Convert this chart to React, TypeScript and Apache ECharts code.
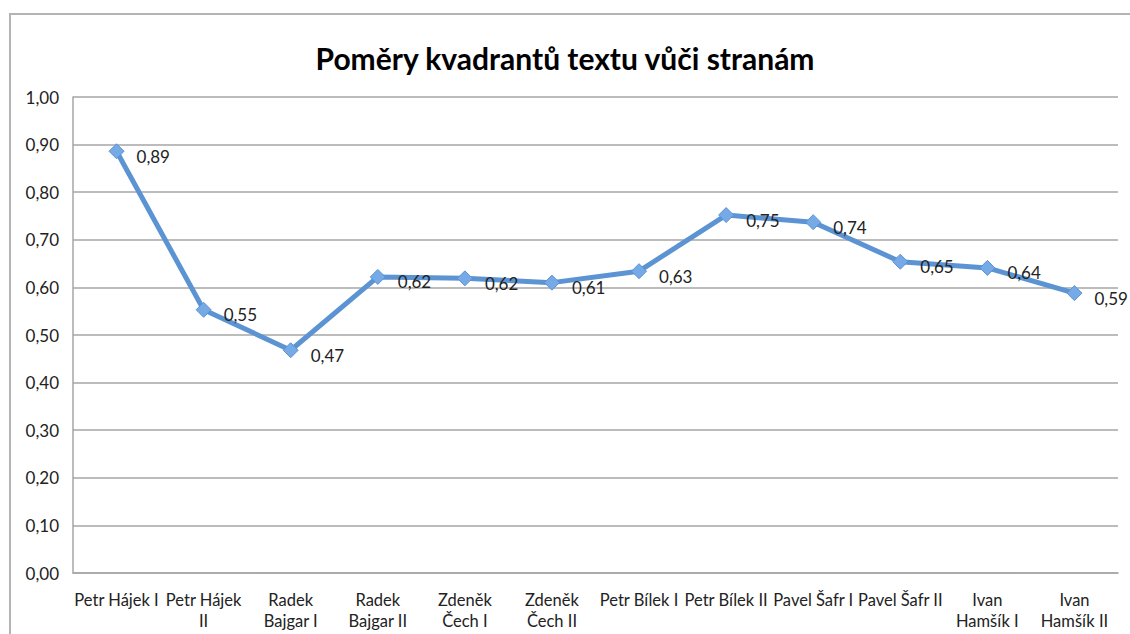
import React, { useEffect, useRef } from "react";
import * as echarts from "echarts";

const TITLE = "Poměry kvadrantů textu vůči stranám";
const categories = [
  "Petr Hájek I",
  "Petr Hájek\nII",
  "Radek\nBajgar I",
  "Radek\nBajgar II",
  "Zdeněk\nČech I",
  "Zdeněk\nČech II",
  "Petr Bílek I",
  "Petr Bílek II",
  "Pavel Šafr I",
  "Pavel Šafr II",
  "Ivan\nHamšík I",
  "Ivan\nHamšík II",
];
const ratios = [0.886, 0.553, 0.468, 0.622, 0.619, 0.61, 0.634, 0.752, 0.737, 0.654, 0.641, 0.588];

const FONT = "Lato, 'Open Sans', sans-serif";
const fmt = (v: number) => v.toFixed(2).replace(".", ",");

export default function App() {
  const ref = useRef<HTMLDivElement>(null);
  useEffect(() => {
    document.body.style.margin = "0";
    if (!ref.current) return;
    const chart = echarts.init(ref.current, null, { renderer: "svg" });
    chart.setOption({
      animation: false,
      backgroundColor: "#ffffff",
      title: {
        text: TITLE,
        left: "center",
        top: 38,
        textStyle: { fontFamily: FONT, fontSize: 30, fontWeight: "bold", color: "#000" },
      },
      graphic: [
        {
          type: "polyline",
          shape: { points: [[10, 640], [10, 14], [1140, 14]] },
          style: { stroke: "#b4b4b4", lineWidth: 2, fill: null },
          silent: true,
        },
      ],
      grid: { left: 73, right: 12, top: 97, bottom: 61 },
      xAxis: {
        type: "category",
        data: categories,
        boundaryGap: true,
        axisLine: { show: true, lineStyle: { color: "#a6a6a6", width: 1.5 } },
        axisTick: { show: false },
        axisLabel: {
          interval: 0,
          margin: 16,
          fontFamily: FONT,
          fontSize: 16.5,
          color: "#222",
          lineHeight: 21,
          verticalAlign: "top",
        },
      },
      yAxis: {
        type: "value",
        min: 0,
        max: 1,
        interval: 0.1,
        axisLine: { show: true, lineStyle: { color: "#a6a6a6", width: 1.5 } },
        axisTick: { show: false },
        splitLine: { show: true, lineStyle: { color: "#a6a6a6", width: 1.5 } },
        axisLabel: {
          formatter: (v: number) => fmt(v),
          margin: 14,
          fontFamily: FONT,
          fontSize: 17,
          color: "#222",
        },
      },
      series: [
        {
          type: "line",
          data: ratios,
          symbol: "diamond",
          symbolSize: 15,
          lineStyle: { color: "#5b93d3", width: 5 },
          itemStyle: { color: "#76aae6", borderColor: "#5b93d3", borderWidth: 1 },
          label: {
            show: true,
            position: "right",
            distance: 12,
            offset: [0, 5],
            formatter: (p: any) => fmt(p.value),
            fontFamily: FONT,
            fontSize: 17,
            color: "#222",
          },
        },
      ],
    });
    return () => chart.dispose();
  }, []);
  return <div ref={ref} style={{ width: 1130, height: 634 }} />;
}
